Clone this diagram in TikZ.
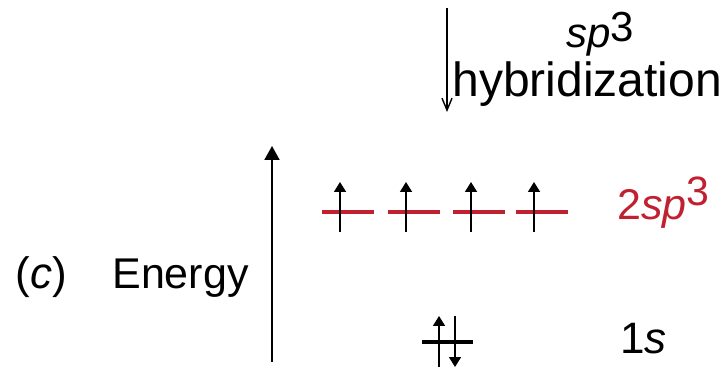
\documentclass[tikz,border=0pt]{standalone}
\usepackage{fontspec}
\setmainfont{Liberation Sans}
\usetikzlibrary{positioning}
\usetikzlibrary{arrows.meta}
\definecolor{orbred}{RGB}{192,32,48}

\begin{document}
\begin{tikzpicture}[x=0.5pt, y=-0.5pt,
    level/.style={line width=2pt},
    spin/.style={line width=0.8pt, -{Triangle[width=6pt, length=5pt]}},
    lbl/.style={inner sep=0pt, anchor=base west}]
    \useasboundingbox (0,0) rectangle (726,367);

    \node[lbl, font=\fontsize{22}{26}\selectfont] (tag) at (15,289) {(\textit{c})};
    \node[lbl, font=\fontsize{21.5}{26}\selectfont] (energy) at (112,289) {Energy};
    \coordinate (axbot) at (272,362);
    \coordinate (axtop) at (272,146);
    \draw[line width=1pt, -{Triangle[width=7.5pt, length=7pt]}] (axbot) -- (axtop);

    \coordinate (hytop) at (447,8);
    \coordinate (hybot) at (447,112);
    \draw[line width=0.7pt, -{Straight Barb[width=5pt, length=6pt]}] (hytop) -- (hybot);
    \node[lbl, font=\fontsize{21}{26}\selectfont] (sp) at (566,48)
        {\textit{sp}\raisebox{3pt}{\fontsize{21}{24}\selectfont 3}};
    \node[lbl, font=\fontsize{24}{28}\selectfont] (hyb) at (452,97) {hybridization};

    \foreach \x [count=\i] in {322,388,453,516} {
        \draw[level, orbred] (\x,212) -- ++(52,0);
        \coordinate (up\i a) at (\x+18,232);
        \coordinate (up\i b) at (\x+18,182);
        \draw[spin] (up\i a) -- (up\i b);
    }
    \node[lbl, font=\fontsize{21.5}{26}\selectfont, text=orbred] (hyblevel) at (617,220)
        {2\textit{sp}\raisebox{7pt}{\fontsize{20.5}{24}\selectfont 3}};

    \draw[level] (422,342) -- (473,342);
    \coordinate (ua) at (439,367);
    \coordinate (ub) at (439,316);
    \coordinate (da) at (455,316);
    \coordinate (db) at (455,367);
    \draw[spin] (ua) -- (ub);
    \draw[spin] (da) -- (db);
    \node[lbl, font=\fontsize{22}{26}\selectfont] (onelevel) at (620,353) {1\textit{s}};
\end{tikzpicture}
\end{document}
